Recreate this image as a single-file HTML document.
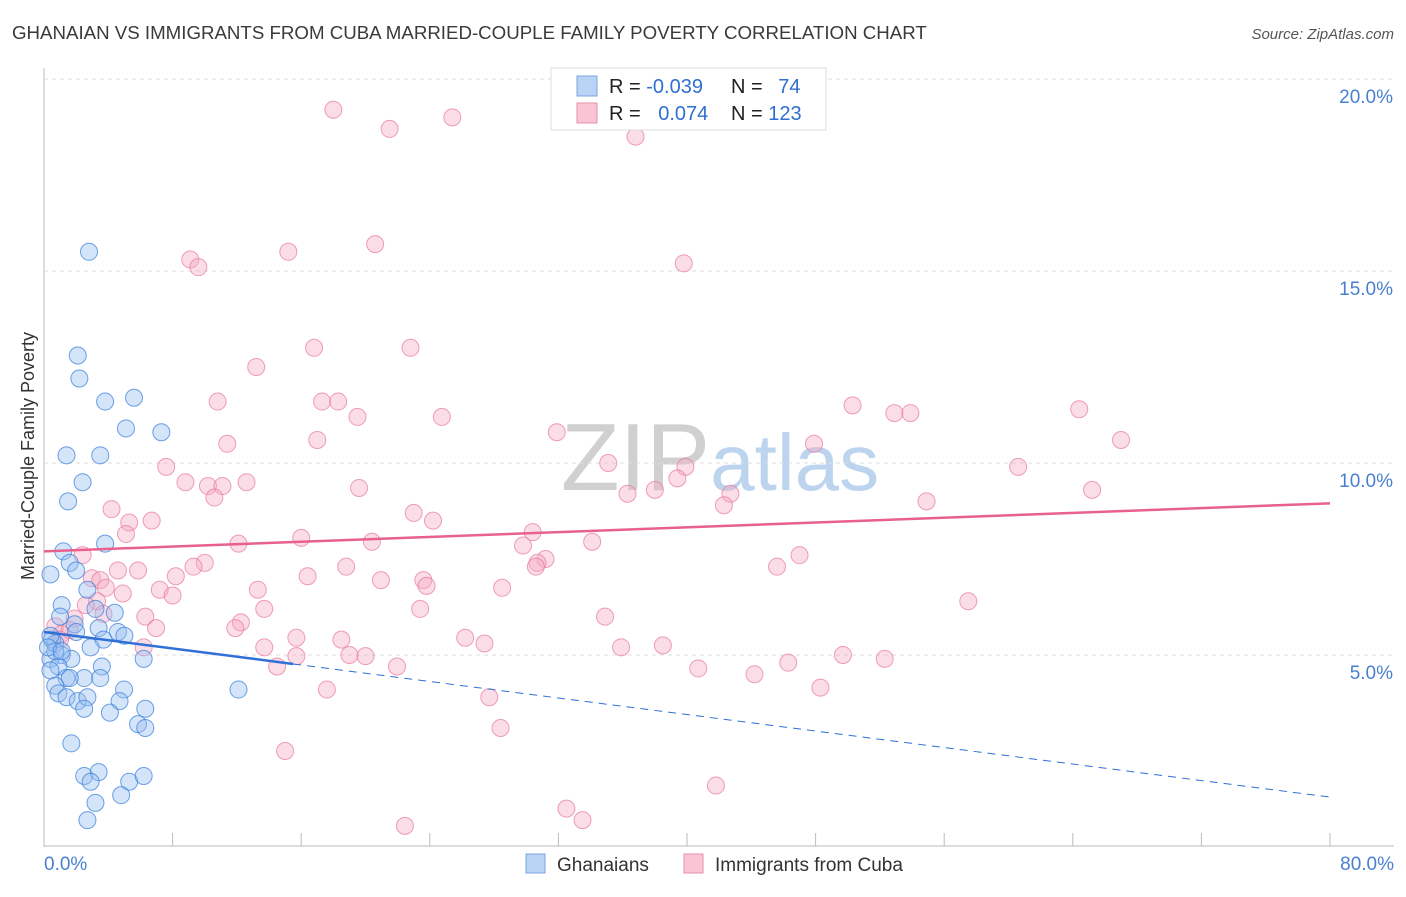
<!DOCTYPE html>
<html><head><meta charset="utf-8"><style>
body{margin:0;background:#fff;font-family:"Liberation Sans",sans-serif;}
svg text{font-family:"Liberation Sans",sans-serif;}
</style></head><body>
<svg id="chart" width="1406" height="892" xmlns="http://www.w3.org/2000/svg">
<text x="12" y="39" font-size="18.7" fill="#3a3a3a">GHANAIAN VS IMMIGRANTS FROM CUBA MARRIED-COUPLE FAMILY POVERTY CORRELATION CHART</text>
<text x="1394" y="39" font-size="15" fill="#555" text-anchor="end" font-style="italic">Source: ZipAtlas.com</text>
<text x="720" y="490" font-size="96" text-anchor="middle" fill="#d8d8d8" font-family="Liberation Serif"><tspan fill="#d0d0d0">ZIP</tspan><tspan fill="#bcd4ee" font-family="Liberation Sans" font-size="80">atlas</tspan></text>
<text transform="translate(34,456) rotate(-90)" font-size="18" fill="#333" text-anchor="middle">Married-Couple Family Poverty</text>
<g id="grid"></g><g id="pts"></g><g id="lines"></g>
<g>
<rect x="551" y="68" width="275" height="62" fill="#fff" stroke="#ddd"/>
<rect x="577" y="76" width="20" height="20" fill="#b9d3f5" stroke="#7aa6e0"/>
<rect x="577" y="103" width="20" height="20" fill="#f9c4d4" stroke="#ea8fab"/>
<text x="609" y="93" font-size="20" fill="#222">R = <tspan fill="#2f6fd0">-0.039</tspan></text>
<text x="731" y="93" font-size="20" fill="#222">N = <tspan fill="#2f6fd0" dx="10">74</tspan></text>
<text x="609" y="120" font-size="20" fill="#222">R = <tspan fill="#2f6fd0" dx="12">0.074</tspan></text>
<text x="731" y="120" font-size="20" fill="#222">N = <tspan fill="#2f6fd0">123</tspan></text>
</g>
<g>
<rect x="526" y="854" width="19" height="19" fill="#b9d3f5" stroke="#7aa6e0"/>
<text x="557" y="871" font-size="19" fill="#333">Ghanaians</text>
<rect x="684" y="854" width="19" height="19" fill="#f9c4d4" stroke="#ea8fab"/>
<text x="715" y="871" font-size="19" fill="#333">Immigrants from Cuba</text>
</g>
</svg>
<script>
const yTicks=[5,10,15,20];
const yTickLabels=["5.0%","10.0%","15.0%","20.0%"];
const xTickLabels=["0.0%","80.0%"];
const blueX=[2.8,2.1,2.2,3.8,5.6,5.1,7.3,1.4,3.5,2.4,1.5,3.8,1.2,1.6,2.0,0.4,2.7,1.1,3.2,4.4,1.0,1.9,2.0,3.4,4.6,5.0,3.7,0.5,0.7,2.9,1.1,1.7,0.4,6.2,3.6,0.9,0.4,2.5,3.5,1.4,1.6,0.7,4.98,12.1,0.9,1.4,2.1,2.7,4.7,2.5,6.3,4.1,5.85,6.3,1.7,2.5,3.4,2.9,5.3,6.2,4.8,3.2,2.7,0.7,0.4,0.25,1.1];
const blueY=[15.5,12.8,12.2,11.6,11.7,10.9,10.8,10.2,10.2,9.5,9.0,7.9,7.7,7.4,7.2,7.1,6.7,6.3,6.2,6.1,6.0,5.8,5.6,5.7,5.6,5.5,5.4,5.4,5.3,5.2,5.0,4.9,4.9,4.9,4.7,4.7,4.6,4.4,4.4,4.4,4.4,4.2,4.1,4.1,4.0,3.9,3.8,3.9,3.8,3.6,3.6,3.5,3.2,3.1,2.7,1.85,1.95,1.7,1.7,1.85,1.35,1.15,0.7,5.1,5.5,5.2,5.1];
const pinkX=[18.0,21.5,25.4,36.8,15.2,20.6,9.1,9.6,39.8,16.8,22.8,13.2,10.8,17.3,18.3,19.5,24.75,50.3,52.9,53.9,64.4,67.0,11.4,17.0,31.9,47.9,7.6,35.1,39.9,39.4,60.6,8.8,10.2,11.1,12.6,19.6,10.6,36.3,38.0,42.7,65.2,54.9,42.3,4.2,23.0,24.2,6.7,5.3,5.1,30.4,16.0,12.1,20.4,29.8,34.1,2.4,31.2,30.7,30.6,47.0,10.0,45.6,4.6,5.85,9.3,18.8,8.2,16.4,2.98,3.5,20.96,23.6,3.85,23.8,28.5,13.3,4.9,7.2,8.0,3.3,2.6,57.5,13.7,23.4,34.9,6.3,3.7,1.9,12.25,11.9,6.97,0.7,1.1,15.7,26.2,18.5,27.4,35.9,38.5,6.2,13.7,19.0,20.0,15.7,49.7,52.3,14.5,21.96,46.3,40.7,44.2,17.6,48.3,27.7,28.4,15.0,41.8,32.5,33.5,22.45,1.0,1.6];
const pinkY=[19.2,18.7,19.0,18.5,15.5,15.7,15.3,15.1,15.2,13.0,13.0,12.5,11.6,11.6,11.6,11.2,11.2,11.5,11.3,11.3,11.4,10.6,10.5,10.6,10.8,10.5,9.9,10.0,9.9,9.6,9.9,9.5,9.4,9.4,9.5,9.35,9.1,9.2,9.3,9.2,9.3,9.0,8.9,8.8,8.7,8.5,8.5,8.45,8.15,8.2,8.05,7.9,7.95,7.85,7.95,7.6,7.5,7.4,7.3,7.6,7.4,7.3,7.2,7.2,7.3,7.3,7.05,7.05,7.0,6.95,6.95,6.95,6.75,6.8,6.75,6.7,6.6,6.7,6.55,6.4,6.3,6.4,6.2,6.2,6.0,6.0,6.07,5.95,5.85,5.7,5.7,5.75,5.55,5.45,5.45,5.4,5.3,5.2,5.25,5.2,5.2,5.0,4.97,4.97,5.0,4.9,4.7,4.7,4.8,4.65,4.5,4.1,4.15,3.9,3.1,2.5,1.6,1.0,0.7,0.55,5.4,5.65];
const blueTrend=[5.6,1.3];
const pinkTrend=[7.7,8.95];
const NS="http://www.w3.org/2000/svg";
const X=v=>44+v/80*1286, Y=v=>847-v*38.4;
function mk(tag,attrs,parent){const e=document.createElementNS(NS,tag);for(const k in attrs)e.setAttribute(k,attrs[k]);parent.appendChild(e);return e;}
const grid=document.getElementById('grid');
const ax=mk('line',{x1:44,y1:68,x2:44,y2:847,stroke:'#bbb'},grid);


const bx=mk('line',{x1:44,y1:846,x2:1394,y2:846,stroke:'#bbb'},grid);


for(let i=1;i<=10;i++){const xx=44+i*128.6;const t=mk('line',{x1:xx,y1:833,x2:xx,y2:846,stroke:'#bbb'},grid);

}
yTicks.forEach((v,i)=>{const g=mk('line',{x1:44,y1:Y(v),x2:1394,y2:Y(v),stroke:'#ddd','stroke-dasharray':'4,4'},grid);


const t=mk('text',{x:1393,y:Y(v)+24,'font-size':19,fill:'#4a7fd0','text-anchor':'end'},grid);t.textContent=yTickLabels[i];

});
const xl=[[44,'start'],[1394,'end']];
xTickLabels.forEach((s,i)=>{const t=mk('text',{x:xl[i][0],y:870,'font-size':19,fill:'#4a7fd0','text-anchor':xl[i][1]},grid);t.textContent=s;

});
const pts=document.getElementById('pts');
pinkX.forEach((x,i)=>{const c=mk('circle',{cx:X(x),cy:Y(pinkY[i]),r:8.5,fill:'rgba(246,170,195,0.4)',stroke:'rgba(232,120,155,0.7)','stroke-width':1},pts);

});
blueX.forEach((x,i)=>{const c=mk('circle',{cx:X(x),cy:Y(blueY[i]),r:8.5,fill:'rgba(150,190,240,0.4)',stroke:'rgba(60,130,220,0.75)','stroke-width':1},pts);

});
const L=document.getElementById('lines');
const bt=v=>blueTrend[0]+(blueTrend[1]-blueTrend[0])*v/80;
const l1=mk('line',{x1:X(0),y1:Y(bt(0)),x2:X(15.5),y2:Y(bt(15.5)),stroke:'#2f6fd6','stroke-width':2.5},L);


const l2=mk('line',{x1:X(15.5),y1:Y(bt(15.5)),x2:X(80),y2:Y(bt(80)),stroke:'#2f6fd6','stroke-width':1,'stroke-dasharray':'8,6'},L);


const l3=mk('line',{x1:X(0),y1:Y(pinkTrend[0]),x2:X(80),y2:Y(pinkTrend[1]),stroke:'#e8608e','stroke-width':2.5},L);


</script>
</body></html>
